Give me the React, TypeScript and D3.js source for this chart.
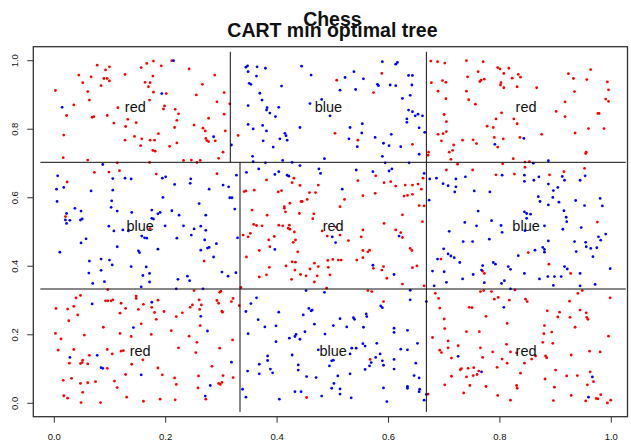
import React from "react";
import * as d3 from "d3";

// ---- data ----
const redPoints: [number, number][] = [
  // upper-left
  [0.178,0.999],[0.166,0.992],[0.211,1.0],[0.156,0.98],[0.192,0.985],[0.177,0.955],[0.242,0.976],[0.288,0.958],[0.127,0.96],[0.077,0.987],[0.099,0.982],[0.092,0.973],[0.044,0.958],[0.066,0.953],[0.089,0.948],[0.095,0.948],[0.099,0.941],[0.051,0.936],[0.084,0.927],[0.163,0.937],[0.172,0.936],[0.169,0.924],[0.266,0.931],[0.002,0.913],[0.06,0.91],[0.178,0.908],[0.201,0.904],[0.255,0.9],[0.305,0.907],[0.063,0.885],[0.171,0.885],[0.292,0.88],[0.315,0.874],[0.035,0.871],[0.114,0.863],[0.198,0.868],[0.196,0.859],[0.217,0.858],[0.223,0.845],[0.022,0.84],[0.068,0.835],[0.071,0.837],[0.095,0.84],[0.305,0.844],[0.277,0.832],[0.132,0.829],[0.22,0.826],[0.107,0.818],[0.147,0.819],[0.251,0.812],[0.128,0.808],[0.216,0.805],[0.267,0.803],[0.271,0.795],[0.307,0.795],[0.187,0.787],[0.017,0.783],[0.144,0.779],[0.157,0.772],[0.272,0.773],[0.274,0.767],[0.277,0.764],[0.289,0.766],[0.127,0.768],[0.172,0.768],[0.18,0.768],[0.155,0.752],[0.207,0.75],[0.22,0.76],[0.177,0.738],[0.181,0.736],[0.303,0.733],[0.295,0.715],[0.016,0.717],[0.06,0.71],[0.113,0.702],[0.171,0.703],[0.232,0.709],[0.246,0.71],[0.256,0.703],[0.262,0.709],
  // upper-middle strays
  [0.507,0.943],[0.588,0.963],[0.573,0.907],[0.504,0.788],[0.545,0.768],[0.643,0.756],[0.33,0.782],
  // upper-right
  [0.676,0.999],[0.688,0.997],[0.701,0.993],[0.74,1.0],[0.77,0.997],[0.796,0.98],[0.8,0.976],[0.816,0.978],[0.807,0.963],[0.761,0.968],[0.742,0.953],[0.772,0.946],[0.766,0.943],[0.764,0.939],[0.677,0.936],[0.697,0.942],[0.703,0.937],[0.833,0.96],[0.837,0.952],[0.822,0.949],[0.802,0.936],[0.801,0.929],[0.807,0.921],[0.831,0.924],[0.866,0.921],[0.689,0.911],[0.74,0.911],[0.923,0.962],[0.932,0.948],[0.956,0.945],[0.963,0.974],[0.993,0.938],[0.995,0.915],[0.934,0.91],[0.99,0.888],[0.995,0.881],[0.703,0.889],[0.744,0.886],[0.756,0.873],[0.917,0.88],[0.901,0.852],[0.917,0.837],[0.976,0.846],[0.978,0.846],[0.7,0.843],[0.704,0.822],[0.793,0.83],[0.803,0.848],[0.825,0.83],[0.831,0.816],[0.777,0.809],[0.788,0.805],[0.959,0.802],[0.987,0.802],[0.935,0.789],[0.875,0.785],[0.689,0.785],[0.698,0.787],[0.704,0.793],[0.695,0.766],[0.717,0.754],[0.733,0.768],[0.752,0.769],[0.758,0.758],[0.79,0.776],[0.806,0.772],[0.836,0.776],[0.796,0.748],[0.709,0.733],[0.715,0.738],[0.672,0.733],[0.671,0.724],[0.712,0.712],[0.724,0.698],[0.805,0.699],[0.824,0.714],[0.845,0.704],[0.853,0.705],[0.955,0.733],[0.954,0.729],
  // middle-left strays
  [0.072,0.674],[0.098,0.675],[0.117,0.679],[0.183,0.669],[0.292,0.67],[0.023,0.646],[0.02,0.545],[0.172,0.51],[0.269,0.415],
  // centre
  [0.341,0.618],[0.344,0.62],[0.359,0.622],[0.381,0.652],[0.402,0.617],[0.408,0.621],[0.427,0.644],[0.43,0.657],[0.441,0.636],[0.458,0.615],[0.469,0.615],[0.474,0.637],[0.454,0.595],[0.443,0.589],[0.445,0.589],[0.423,0.584],[0.413,0.574],[0.413,0.569],[0.415,0.559],[0.355,0.564],[0.382,0.549],[0.44,0.554],[0.466,0.553],[0.464,0.539],[0.513,0.574],[0.521,0.595],[0.545,0.65],[0.554,0.606],[0.576,0.613],[0.577,0.664],[0.592,0.644],[0.604,0.647],[0.613,0.634],[0.63,0.637],[0.643,0.637],[0.628,0.605],[0.634,0.607],[0.643,0.61],[0.653,0.64],[0.659,0.625],[0.662,0.657],[0.664,0.576],[0.655,0.577],[0.625,0.55],[0.661,0.53],[0.358,0.522],[0.363,0.519],[0.373,0.518],[0.403,0.52],[0.41,0.518],[0.422,0.52],[0.42,0.511],[0.423,0.508],[0.431,0.5],[0.339,0.491],[0.348,0.486],[0.352,0.496],[0.385,0.477],[0.395,0.487],[0.429,0.47],[0.433,0.477],[0.481,0.503],[0.49,0.488],[0.506,0.514],[0.513,0.491],[0.528,0.475],[0.554,0.506],[0.551,0.486],[0.592,0.525],[0.613,0.506],[0.622,0.498],[0.625,0.484],[0.368,0.446],[0.387,0.457],[0.345,0.427],[0.437,0.442],[0.427,0.413],[0.433,0.412],[0.416,0.401],[0.386,0.397],[0.368,0.369],[0.381,0.375],[0.432,0.389],[0.442,0.376],[0.452,0.372],[0.459,0.392],[0.467,0.409],[0.474,0.399],[0.472,0.372],[0.467,0.354],[0.426,0.362],[0.491,0.417],[0.5,0.42],[0.51,0.418],[0.515,0.418],[0.492,0.397],[0.495,0.375],[0.489,0.336],[0.543,0.418],[0.554,0.425],[0.554,0.446],[0.566,0.447],[0.563,0.442],[0.573,0.394],[0.591,0.399],[0.597,0.365],[0.588,0.389],[0.639,0.452],[0.642,0.446],[0.643,0.396],[0.651,0.401],[0.625,0.348],[0.664,0.343],[0.335,0.338],
  // middle-right strays
  [0.704,0.681],[0.751,0.681],[0.793,0.667],[0.826,0.669],[0.845,0.689],[0.889,0.667],[0.915,0.676],[0.952,0.686],[0.975,0.529],[0.851,0.44],[0.694,0.421],[0.888,0.406],[0.927,0.379],[0.772,0.379],[0.769,0.386],
  // lower-left
  [0.096,0.332],[0.251,0.329],[0.297,0.324],[0.299,0.327],[0.047,0.315],[0.039,0.308],[0.092,0.299],[0.096,0.299],[0.102,0.299],[0.105,0.302],[0.147,0.313],[0.147,0.306],[0.186,0.301],[0.12,0.292],[0.16,0.289],[0.175,0.28],[0.128,0.277],[0.151,0.274],[0.118,0.263],[0.003,0.277],[0.024,0.275],[0.035,0.283],[0.042,0.258],[0.026,0.241],[0.18,0.265],[0.197,0.268],[0.219,0.253],[0.23,0.264],[0.244,0.28],[0.248,0.287],[0.26,0.302],[0.264,0.287],[0.261,0.274],[0.292,0.3],[0.295,0.292],[0.318,0.297],[0.301,0.269],[0.302,0.266],[0.183,0.245],[0.156,0.232],[0.088,0.222],[0.262,0.227],[0.32,0.185],[0.002,0.204],[0.012,0.188],[0.054,0.199],[0.118,0.204],[0.138,0.195],[0.174,0.201],[0.21,0.212],[0.242,0.196],[0.256,0.178],[0.007,0.155],[0.035,0.157],[0.063,0.14],[0.095,0.157],[0.104,0.144],[0.12,0.152],[0.124,0.154],[0.159,0.127],[0.223,0.162],[0.254,0.148],[0.297,0.161],[0.027,0.117],[0.047,0.116],[0.05,0.119],[0.051,0.126],[0.06,0.115],[0.095,0.102],[0.139,0.114],[0.186,0.103],[0.283,0.108],[0.016,0.067],[0.031,0.073],[0.047,0.058],[0.06,0.06],[0.074,0.063],[0.108,0.065],[0.113,0.046],[0.128,0.084],[0.194,0.083],[0.216,0.074],[0.219,0.055],[0.259,0.08],[0.303,0.081],[0.301,0.061],[0.298,0.055],[0.295,0.058],[0.258,0.045],[0.272,0.012],[0.017,0.022],[0.024,0.015],[0.051,0.032],[0.048,0.002],[0.083,0.002],[0.13,0.018],[0.16,0.006],[0.19,0.012],[0.217,0.01],
  // lower-middle strays
  [0.321,0.306],[0.332,0.285],[0.591,0.297],[0.321,0.075],[0.453,0.017],[0.567,0.128],[0.563,0.329],[0.57,0.326],
  // lower-right
  [0.684,0.321],[0.69,0.306],[0.692,0.278],[0.7,0.246],[0.701,0.218],[0.679,0.192],[0.707,0.182],[0.707,0.162],[0.692,0.155],[0.695,0.148],[0.713,0.132],[0.725,0.168],[0.74,0.209],[0.745,0.28],[0.75,0.279],[0.763,0.209],[0.765,0.326],[0.771,0.329],[0.785,0.326],[0.79,0.304],[0.797,0.309],[0.775,0.254],[0.765,0.162],[0.769,0.134],[0.787,0.15],[0.817,0.301],[0.827,0.331],[0.846,0.304],[0.849,0.297],[0.813,0.233],[0.812,0.172],[0.804,0.129],[0.819,0.15],[0.83,0.147],[0.813,0.117],[0.844,0.117],[0.857,0.129],[0.864,0.138],[0.885,0.27],[0.907,0.266],[0.904,0.252],[0.88,0.227],[0.879,0.203],[0.893,0.208],[0.877,0.178],[0.895,0.175],[0.882,0.138],[0.884,0.133],[0.925,0.298],[0.944,0.272],[0.955,0.264],[0.956,0.251],[0.958,0.245],[0.926,0.251],[0.935,0.222],[0.94,0.321],[0.948,0.329],[0.998,0.308],[0.995,0.196],[0.961,0.152],[0.98,0.15],[0.928,0.141],[0.729,0.098],[0.731,0.101],[0.743,0.102],[0.753,0.104],[0.759,0.084],[0.752,0.081],[0.762,0.094],[0.74,0.077],[0.713,0.079],[0.795,0.105],[0.837,0.088],[0.746,0.052],[0.775,0.049],[0.701,0.054],[0.735,0.03],[0.796,0.023],[0.83,0.052],[0.831,0.044],[0.819,0.009],[0.881,0.071],[0.9,0.097],[0.898,0.047],[0.92,0.08],[0.939,0.081],[0.962,0.092],[0.968,0.063],[0.957,0.054],[0.928,0.023],[0.896,0.008],[0.954,0.007],[0.973,0.014],[0.976,0.013],[0.981,0.025],[0.993,0.001],[0.999,0.009],[0.671,0.027],
];

const bluePoints: [number, number][] = [
  // upper-left strays
  [0.214,1.0],[0.193,0.904],[0.014,0.864],[0.286,0.778],[0.318,0.754],[0.087,0.697],
  // upper-middle
  [0.344,0.981],[0.347,0.985],[0.364,0.982],[0.379,0.978],[0.348,0.968],[0.363,0.955],[0.444,0.984],[0.461,0.958],[0.35,0.934],[0.353,0.931],[0.408,0.926],[0.369,0.905],[0.373,0.885],[0.348,0.869],[0.382,0.863],[0.381,0.856],[0.387,0.847],[0.403,0.864],[0.397,0.837],[0.459,0.875],[0.48,0.887],[0.495,0.839],[0.348,0.814],[0.374,0.811],[0.357,0.801],[0.381,0.795],[0.441,0.805],[0.414,0.788],[0.416,0.781],[0.405,0.772],[0.418,0.768],[0.375,0.766],[0.393,0.748],[0.356,0.721],[0.357,0.705],[0.379,0.702],[0.41,0.709],[0.427,0.703],[0.522,0.951],[0.538,0.968],[0.555,0.947],[0.513,0.914],[0.541,0.916],[0.589,0.997],[0.613,0.99],[0.616,0.995],[0.58,0.931],[0.582,0.927],[0.603,0.929],[0.613,0.927],[0.636,0.957],[0.643,0.957],[0.642,0.929],[0.639,0.899],[0.625,0.89],[0.636,0.856],[0.643,0.851],[0.648,0.839],[0.653,0.844],[0.661,0.839],[0.633,0.83],[0.633,0.82],[0.655,0.804],[0.665,0.791],[0.531,0.805],[0.553,0.816],[0.552,0.789],[0.529,0.772],[0.544,0.749],[0.576,0.776],[0.605,0.785],[0.591,0.759],[0.601,0.752],[0.622,0.749],[0.655,0.727],[0.589,0.721],[0.594,0.702],[0.637,0.702],[0.485,0.714],
  // upper-right strays
  [0.843,0.773],[0.791,0.756],[0.86,0.701],[0.887,0.708],
  // middle-left
  [0.006,0.664],[0.004,0.625],[0.017,0.63],[0.005,0.589],[0.066,0.62],[0.105,0.656],[0.127,0.657],[0.138,0.655],[0.105,0.622],[0.103,0.591],[0.102,0.572],[0.113,0.561],[0.037,0.569],[0.048,0.561],[0.022,0.554],[0.02,0.535],[0.028,0.534],[0.022,0.525],[0.047,0.535],[0.05,0.538],[0.139,0.557],[0.194,0.657],[0.2,0.661],[0.216,0.639],[0.245,0.655],[0.244,0.642],[0.278,0.625],[0.303,0.637],[0.313,0.632],[0.195,0.601],[0.211,0.562],[0.224,0.549],[0.175,0.564],[0.186,0.553],[0.19,0.557],[0.26,0.583],[0.272,0.549],[0.315,0.6],[0.319,0.6],[0.175,0.54],[0.178,0.538],[0.098,0.517],[0.107,0.503],[0.123,0.506],[0.133,0.503],[0.199,0.518],[0.232,0.518],[0.251,0.509],[0.263,0.517],[0.272,0.505],[0.246,0.491],[0.22,0.482],[0.157,0.488],[0.162,0.483],[0.166,0.482],[0.048,0.468],[0.057,0.48],[0.113,0.457],[0.01,0.441],[0.151,0.445],[0.153,0.44],[0.186,0.45],[0.27,0.477],[0.291,0.466],[0.278,0.455],[0.275,0.453],[0.263,0.447],[0.286,0.427],[0.063,0.415],[0.084,0.421],[0.099,0.418],[0.104,0.404],[0.084,0.388],[0.062,0.38],[0.138,0.399],[0.165,0.398],[0.171,0.379],[0.159,0.373],[0.09,0.355],[0.069,0.35],[0.156,0.34],[0.171,0.354],[0.222,0.362],[0.239,0.371],[0.243,0.358],[0.301,0.383],[0.312,0.371],[0.219,0.334],[0.267,0.334],
  // centre strays
  [0.327,0.666],[0.345,0.674],[0.367,0.684],[0.396,0.668],[0.403,0.676],[0.418,0.666],[0.421,0.663],[0.441,0.694],[0.475,0.684],[0.478,0.671],[0.324,0.567],[0.329,0.483],[0.326,0.381],[0.517,0.625],[0.542,0.681],[0.572,0.676],[0.601,0.678],[0.606,0.684],[0.664,0.671],[0.619,0.488],[0.505,0.469],[0.499,0.486],[0.396,0.449],[0.572,0.403],[0.61,0.376],
  // middle-right
  [0.674,0.655],[0.686,0.657],[0.698,0.641],[0.707,0.635],[0.721,0.632],[0.719,0.617],[0.721,0.655],[0.738,0.661],[0.754,0.62],[0.782,0.617],[0.804,0.666],[0.844,0.666],[0.844,0.648],[0.861,0.651],[0.87,0.661],[0.887,0.64],[0.896,0.621],[0.904,0.63],[0.912,0.662],[0.916,0.651],[0.944,0.651],[0.953,0.664],[0.673,0.593],[0.869,0.603],[0.872,0.589],[0.887,0.579],[0.895,0.601],[0.906,0.587],[0.936,0.592],[0.952,0.577],[0.98,0.598],[0.984,0.576],[0.915,0.562],[0.919,0.543],[0.92,0.53],[0.913,0.508],[0.946,0.513],[0.844,0.559],[0.848,0.554],[0.855,0.552],[0.848,0.54],[0.845,0.504],[0.88,0.518],[0.761,0.561],[0.737,0.528],[0.785,0.533],[0.758,0.518],[0.802,0.519],[0.804,0.499],[0.709,0.502],[0.734,0.472],[0.751,0.472],[0.781,0.479],[0.887,0.474],[0.934,0.472],[0.954,0.47],[0.977,0.486],[0.981,0.476],[0.99,0.494],[0.955,0.457],[0.963,0.452],[0.974,0.454],[0.937,0.443],[0.967,0.428],[0.877,0.455],[0.88,0.449],[0.863,0.447],[0.88,0.441],[0.833,0.431],[0.699,0.451],[0.707,0.436],[0.712,0.43],[0.718,0.425],[0.688,0.421],[0.728,0.411],[0.788,0.411],[0.792,0.406],[0.769,0.402],[0.815,0.399],[0.819,0.391],[0.844,0.379],[0.916,0.399],[0.921,0.392],[0.944,0.379],[0.679,0.386],[0.7,0.384],[0.752,0.376],[0.767,0.389],[0.733,0.363],[0.772,0.352],[0.808,0.358],[0.803,0.35],[0.704,0.353],[0.682,0.343],[0.871,0.363],[0.886,0.37],[0.898,0.37],[0.91,0.37],[0.896,0.344],[0.944,0.343],[0.971,0.347],[0.998,0.393],[0.819,0.334],
  // lower-left strays
  [0.068,0.29],[0.175,0.295],[0.263,0.254],[0.142,0.221],[0.275,0.211],[0.028,0.134],[0.077,0.14],[0.084,0.104],[0.087,0.102],[0.156,0.083],[0.318,0.12],[0.28,0.052],[0.271,0.021],
  // lower-middle
  [0.452,0.329],[0.485,0.324],[0.639,0.33],[0.344,0.268],[0.353,0.291],[0.363,0.308],[0.403,0.266],[0.366,0.244],[0.378,0.223],[0.398,0.226],[0.348,0.203],[0.398,0.18],[0.457,0.277],[0.461,0.27],[0.463,0.272],[0.447,0.258],[0.422,0.19],[0.432,0.195],[0.434,0.201],[0.441,0.187],[0.45,0.209],[0.467,0.231],[0.486,0.202],[0.501,0.227],[0.513,0.247],[0.525,0.223],[0.537,0.25],[0.539,0.245],[0.56,0.261],[0.561,0.253],[0.555,0.222],[0.586,0.284],[0.589,0.279],[0.639,0.302],[0.61,0.219],[0.61,0.207],[0.634,0.213],[0.474,0.156],[0.534,0.161],[0.542,0.161],[0.531,0.144],[0.554,0.174],[0.558,0.167],[0.579,0.175],[0.622,0.158],[0.634,0.156],[0.652,0.175],[0.427,0.141],[0.383,0.138],[0.383,0.125],[0.368,0.114],[0.347,0.094],[0.368,0.086],[0.388,0.1],[0.392,0.089],[0.438,0.112],[0.438,0.097],[0.453,0.078],[0.47,0.075],[0.498,0.124],[0.501,0.126],[0.494,0.109],[0.509,0.08],[0.531,0.086],[0.558,0.099],[0.566,0.109],[0.569,0.119],[0.577,0.134],[0.585,0.144],[0.589,0.124],[0.591,0.111],[0.61,0.128],[0.61,0.1],[0.649,0.117],[0.646,0.081],[0.655,0.074],[0.338,0.041],[0.344,0.018],[0.404,0.012],[0.432,0.034],[0.443,0.034],[0.48,0.021],[0.502,0.058],[0.498,0.044],[0.513,0.042],[0.513,0.027],[0.533,0.016],[0.591,0.045],[0.597,0.005],[0.634,0.049],[0.634,0.044],[0.656,0.041],[0.655,0.034],[0.664,0.009],[0.668,0.297],[0.668,0.026],
  // lower-right strays
  [0.807,0.28],[0.725,0.137],[0.767,0.092],[0.966,0.077],[0.959,0.018],
];

const xTicks = [0, 0.2, 0.4, 0.6, 0.8, 1.0];
const yTicks = [0, 0.2, 0.4, 0.6, 0.8, 1.0];

// tree splits and the extent the partition lines span
const treeLimits = [-0.025, 1.026];
const ySplits = [0.3336, 0.7034];
const xSplitUpper = 0.316;
const xSplitLower = 0.3334;
const xSplitRight = 0.668;

const leafLabels = [
  "red", "blue", "red",
  "blue", "red", "blue",
  "red", "blue", "red",
];

const titles = ["Chess", "CART min optimal tree"];

// ---- layout ----
const W = 631, H = 445;
const box = { left: 33.3, right: 627.5, top: 46.7, bottom: 416.7 };
const FONT = "'Liberation Sans', Arial, Helvetica, sans-serif";

export default function App() {
  const x = d3.scaleLinear().domain([0, 1]).range([54.3, 611.3]);
  const y = d3.scaleLinear().domain([0, 1]).range([403.3, 60.7]);
  const [lo, hi] = treeLimits;

  const segs: [number, number, number, number][] = [
    [lo, ySplits[1], hi, ySplits[1]],
    [lo, ySplits[0], hi, ySplits[0]],
    [xSplitUpper, ySplits[1], xSplitUpper, hi],
    [xSplitLower, lo, xSplitLower, ySplits[1]],
    [xSplitRight, lo, xSplitRight, hi],
  ];

  const rows = [
    [ySplits[1], hi, [lo, xSplitUpper, xSplitRight, hi]],
    [ySplits[0], ySplits[1], [lo, xSplitLower, xSplitRight, hi]],
    [lo, ySplits[0], [lo, xSplitLower, xSplitRight, hi]],
  ] as [number, number, number[]][];
  const leaves: { cx: number; cy: number; label: string }[] = [];
  rows.forEach(([y0, y1, xs], r) => {
    for (let c = 0; c < 3; c++) {
      leaves.push({ cx: (xs[c] + xs[c + 1]) / 2, cy: (y0 + y1) / 2, label: leafLabels[r * 3 + c] });
    }
  });

  const cx = (box.left + box.right) / 2 + 2;

  return (
    <svg width={W} height={H} style={{ position: "absolute", left: 0, top: 0, background: "#fff" }} fontFamily={FONT}>
      <rect x={0} y={0} width={W} height={H} fill="#fff" />
      {redPoints.map((p, i) => (
        <circle key={"r" + i} cx={x(p[0])} cy={y(p[1])} r={1.4} fill="#ff0000" />
      ))}
      {bluePoints.map((p, i) => (
        <circle key={"b" + i} cx={x(p[0])} cy={y(p[1])} r={1.4} fill="#0000ff" />
      ))}
      {segs.map((s, i) => (
        <line key={"s" + i} x1={x(s[0])} y1={y(s[1])} x2={x(s[2])} y2={y(s[3])} stroke="#111" strokeWidth={1} />
      ))}
      {leaves.map((l, i) => (
        <text key={"l" + i} x={x(l.cx)} y={y(l.cy)} dy="0.37em" textAnchor="middle" fontSize={14.5} fill="#111">
          {l.label}
        </text>
      ))}
      <rect x={box.left} y={box.top} width={box.right - box.left} height={box.bottom - box.top} fill="none" stroke="#333" strokeWidth={1.3} />
      {xTicks.map((t) => (
        <g key={"xt" + t}>
          <line x1={x(t)} x2={x(t)} y1={box.bottom} y2={box.bottom + 6} stroke="#333" strokeWidth={1} />
          <text x={x(t)} y={440} textAnchor="middle" fontSize={9.5} fill="#111">{t.toFixed(1)}</text>
        </g>
      ))}
      {yTicks.map((t) => (
        <g key={"yt" + t}>
          <line x1={box.left - 6} x2={box.left} y1={y(t)} y2={y(t)} stroke="#333" strokeWidth={1} />
          <text transform={`translate(18.3,${y(t)}) rotate(-90)`} textAnchor="middle" fontSize={9.5} fill="#111">{t.toFixed(1)}</text>
        </g>
      ))}
      <text x={cx} y={26} textAnchor="middle" fontSize={19.5} fontWeight="bold" fill="#111">{titles[0]}</text>
      <text x={cx} y={37} textAnchor="middle" fontSize={19.5} fontWeight="bold" fill="#111">{titles[1]}</text>
    </svg>
  );
}
